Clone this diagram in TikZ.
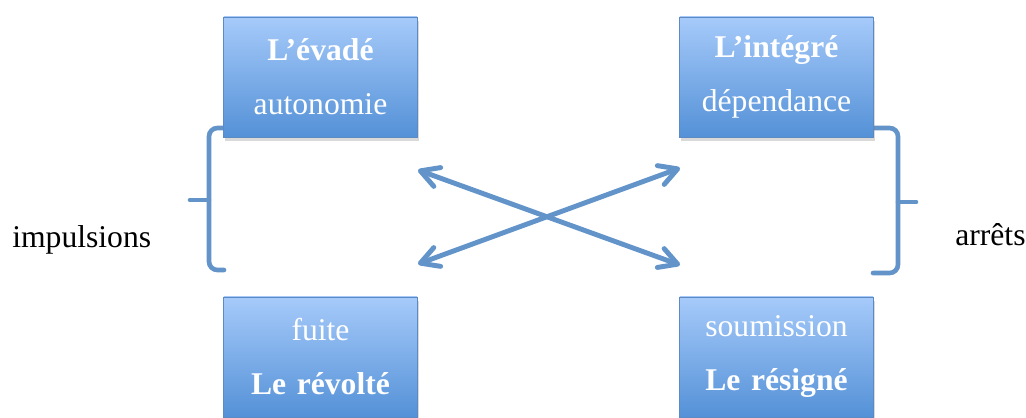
\documentclass[tikz,border=0pt]{standalone}
\usepackage{fontspec}
\setmainfont{Liberation Serif}
\usetikzlibrary{arrows.meta,positioning,shadows}
\definecolor{boxtop}{RGB}{166,202,250}
\definecolor{boxbot}{RGB}{84,145,215}
\definecolor{boxline}{RGB}{92,138,196}
\definecolor{linkblue}{RGB}{98,148,202}

\begin{document}
\begin{tikzpicture}[
  x=0.025cm, y=-0.025cm,
  box/.style={draw=boxline, line width=.6pt, top color=boxtop, bottom color=boxbot, minimum width=4.825cm, minimum height=3cm, text width=4.6cm, align=center, text=white, font=\fontsize{22.5}{38.4}\selectfont, drop shadow={opacity=.3, shadow xshift=1pt, shadow yshift=-2.5pt}},
  side/.style={font=\fontsize{22.5}{27}\selectfont, anchor=base west, inner sep=0pt},
  swap/.style={{Straight Barb[length=4.5mm,width=5mm,round]}-{Straight Barb[length=4.5mm,width=5mm,round]}, line width=3.5pt, draw=linkblue},
  brk/.style={line width=3.3pt, draw=linkblue, rounded corners=6pt, line cap=round}
]
\useasboundingbox (0,0) rectangle (1026,417);

% Brackets behind the boxes.
\coordinate (lb) at (224,270);
\coordinate (rb) at (873,273);
\draw[brk] (226,128) -- (209,128) -- (209,270) -- (lb);
\draw[brk] (209,200) -- (190,200);
\draw[brk] (871,128) -- (898,128) -- (898,273) -- (rb);
\draw[brk] (898,202) -- (916,202);

\node[box] (evade) at (320.5,77) {\textbf{L’évadé}\\autonomie};
\node[box] (integre) at (776.5,77) {\textbf{L’intégré}\\dépendance};
\node[box] (revolte) at (320.5,357) {fuite\\\textbf{Le révolté}};
\node[box] (resigne) at (776.5,357) {soumission\\\textbf{Le résigné}};

\node[side] (impulsions) at (12,247) {impulsions};
\node[side] (arrets) at (955,245) {arrêts};

% The two crossing double arrows.
\coordinate (ul) at (418,170);
\coordinate (lr) at (680,265);
\coordinate (ur) at (680,168);
\coordinate (ll) at (418,264);
\draw[swap] (ul) -- (lr);
\draw[swap] (ll) -- (ur);
\end{tikzpicture}
\end{document}
